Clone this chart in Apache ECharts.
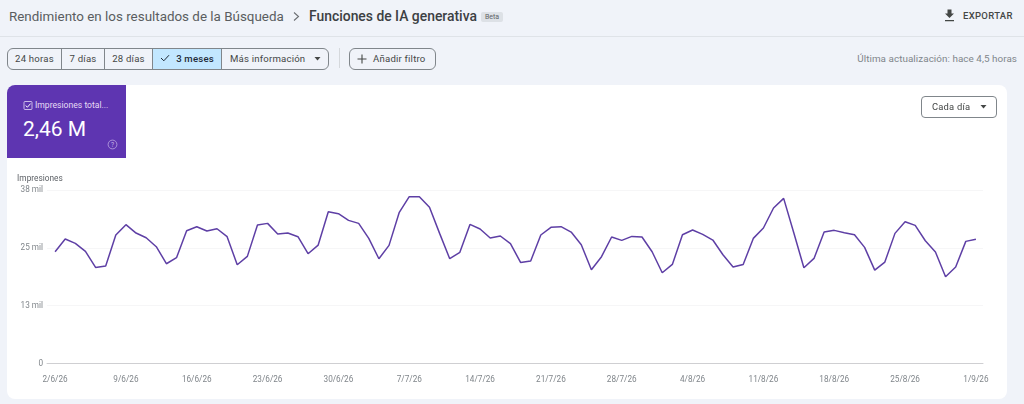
<!DOCTYPE html>
<html>
<head>
<meta charset="utf-8">
<script src="https://cdn.jsdelivr.net/npm/echarts@6/dist/echarts.min.js"></script>
<style>
html, body { margin: 0; padding: 0; width: 1024px; height: 404px; overflow: hidden; background: #f0f3f9; font-family: Roboto, sans-serif; color: #444746; }
.abs { position: absolute; white-space: nowrap; }
#head-line { left: 0; top: 36px; width: 1024px; height: 1px; background: #dfe3e8; }
#crumb1 { left: 9px; top: 7px; font-size: 13.4px; line-height: 19px; color: #5a5d60; }
#crumbsep { left: 291px; top: 11px; }
#crumb2 { left: 309px; top: 7px; font-size: 13.9px; line-height: 19px; font-weight: 500; color: #3c4043; }
#beta { left: 481px; top: 12px; width: 22px; height: 10px; line-height: 10px; background: #dde1e6; border-radius: 2px; font-size: 7px; text-align: center; color: #5f6368; }
#export { left: 963px; top: 9px; font-size: 9.5px; line-height: 13px; font-weight: 500; letter-spacing: .3px; color: #444746; }
#segs { left: 7px; top: 48px; width: 320px; height: 20px; border: 1px solid #80868b; border-radius: 6px; overflow: hidden; display: flex; background: #f0f3f9; }
.seg { flex: 0 0 auto; height: 20px; line-height: 20px; font-size: 9.6px; text-align: center; border-right: 1px solid #80868b; color: #444746; letter-spacing: .2px; }
.seg.on { background: #c2e7ff; color: #1f2a37; font-weight: 500; }
#sep { left: 339px; top: 48px; width: 1px; height: 20px; background: #d5d8dc; }
#filter { left: 349px; top: 48px; width: 85px; height: 20px; border: 1px solid #80868b; border-radius: 6px; }
#filter span { position: absolute; left: 23px; top: 0; line-height: 20px; font-size: 9.6px; letter-spacing: .2px; }
#updated { right: 7px; top: 52px; font-size: 9.9px; line-height: 13px; color: #80868b; letter-spacing: .05px; }
#card { left: 7px; top: 85px; width: 1000px; height: 314px; background: #fff; border-radius: 8px; }
#metric { left: 7px; top: 85px; width: 119px; height: 73px; background: #5e35b1; border-radius: 8px 0 0 0; color: #fff; }
#metric .name { position: absolute; left: 28px; top: 15px; font-size: 8.6px; line-height: 11px; color: #e6dcf5; }
#metric .val { position: absolute; left: 16px; top: 31px; font-size: 21px; line-height: 27px; }
#perday { left: 921px; top: 96px; width: 74px; height: 20px; border: 1px solid #80868b; border-radius: 4px; background: #fff; }
#perday span { position: absolute; left: 10px; top: 0; line-height: 20px; font-size: 9.4px; letter-spacing: .2px; }
#chart { left: 0; top: 0; width: 1024px; height: 404px; }
</style>
</head>
<body>
<div class="abs" id="head-line"></div>
<div class="abs" id="crumb1">Rendimiento en los resultados de la Búsqueda</div>
<svg class="abs" id="crumbsep" width="10" height="11" viewBox="0 0 10 11"><path d="M3 1.5 L7.5 5.5 L3 9.5" fill="none" stroke="#6b6e72" stroke-width="1.1"/></svg>
<div class="abs" id="crumb2">Funciones de IA generativa</div>
<div class="abs" id="beta">Beta</div>
<svg class="abs" style="left:944px;top:9px" width="11" height="13" viewBox="0 0 11 13"><path d="M3.5 0.5 H7.5 V4.5 H10 L5.5 9 L1 4.5 H3.5 Z M1 11 H10 V12.2 H1 Z" fill="#444746"/></svg>
<div class="abs" id="export">EXPORTAR</div>

<div class="abs" id="segs">
  <div class="seg" style="width:53px">24 horas</div>
  <div class="seg" style="width:42px">7 días</div>
  <div class="seg" style="width:47px">28 días</div>
  <div class="seg on" style="width:68px"><svg width="10" height="8" viewBox="0 0 10 8" style="margin-right:6px"><path d="M1 4 L3.8 6.8 L9 1.2" fill="none" stroke="#1f2a37" stroke-width="1"/></svg>3 meses</div>
  <div class="seg" style="width:98px;border-right:0;text-align:left;padding-left:8px">Más información<svg width="7" height="4" viewBox="0 0 7 4" style="margin-left:9px;vertical-align:1px"><path d="M0.5 0 H6.5 L3.5 3.5 Z" fill="#444746"/></svg></div>
</div>
<div class="abs" id="sep"></div>
<div class="abs" id="filter">
  <svg class="abs" style="left:7px;top:5px" width="10" height="10" viewBox="0 0 10 10"><path d="M5 0.5 V9.5 M0.5 5 H9.5" stroke="#444746" stroke-width="1.1"/></svg>
  <span>Añadir filtro</span>
</div>
<div class="abs" id="updated">Última actualización: hace 4,5 horas</div>

<div class="abs" id="card"></div>
<div class="abs" id="chart"></div>
<div class="abs" id="metric">
  <svg class="abs" style="left:16px;top:15px" width="10" height="11" viewBox="0 0 10 11"><rect x="1" y="1.5" width="8" height="8" rx="1" fill="none" stroke="#e6dcf5" stroke-width="0.8"/><path d="M2.6 5.5 L4.4 7.2 L7.6 3.6" fill="none" stroke="#fff" stroke-width="1"/></svg>
  <div class="name">Impresiones total...</div>
  <div class="val">2,46 M</div>
  <svg class="abs" style="left:100px;top:54px" width="11" height="11" viewBox="0 0 11 11"><circle cx="5.5" cy="5.5" r="4.4" fill="none" stroke="#c9b8e8" stroke-width="0.7"/><text x="5.5" y="8" font-size="6.5" text-anchor="middle" fill="#c9b8e8" font-family="Roboto">?</text></svg>
</div>
<div class="abs" id="perday">
  <span>Cada día</span>
  <svg class="abs" style="left:58px;top:8px" width="7" height="4" viewBox="0 0 7 4"><path d="M0.5 0 H6.5 L3.5 3.5 Z" fill="#444746"/></svg>
</div>

<script>
var dates = [
  "2/6/26", "3/6/26", "4/6/26", "5/6/26", "6/6/26", "7/6/26", "8/6/26", "9/6/26", "10/6/26", "11/6/26",
  "12/6/26", "13/6/26", "14/6/26", "15/6/26", "16/6/26", "17/6/26", "18/6/26", "19/6/26", "20/6/26", "21/6/26",
  "22/6/26", "23/6/26", "24/6/26", "25/6/26", "26/6/26", "27/6/26", "28/6/26", "29/6/26", "30/6/26", "1/7/26",
  "2/7/26", "3/7/26", "4/7/26", "5/7/26", "6/7/26", "7/7/26", "8/7/26", "9/7/26", "10/7/26", "11/7/26",
  "12/7/26", "13/7/26", "14/7/26", "15/7/26", "16/7/26", "17/7/26", "18/7/26", "19/7/26", "20/7/26", "21/7/26",
  "22/7/26", "23/7/26", "24/7/26", "25/7/26", "26/7/26", "27/7/26", "28/7/26", "29/7/26", "30/7/26", "31/7/26",
  "1/8/26", "2/8/26", "3/8/26", "4/8/26", "5/8/26", "6/8/26", "7/8/26", "8/8/26", "9/8/26", "10/8/26",
  "11/8/26", "12/8/26", "13/8/26", "14/8/26", "15/8/26", "16/8/26", "17/8/26", "18/8/26", "19/8/26", "20/8/26",
  "21/8/26", "22/8/26", "23/8/26", "24/8/26", "25/8/26", "26/8/26", "27/8/26", "28/8/26", "29/8/26", "30/8/26",
  "31/8/26", "1/9/26"
];
var impressions = [
  24480, 27260, 26310, 24550, 21050, 21340, 28140, 30400, 28570, 27550,
  25580, 21850, 23170, 29090, 29960, 29010, 29520, 27770, 21630, 23460,
  30330, 30690, 28360, 28570, 27770, 24040, 25940, 33250, 32810, 31350,
  30690, 27400, 22950, 25870, 33030, 36540, 36540, 34200, 28500, 22950,
  24340, 30470, 29450, 27480, 27920, 26240, 22140, 22440, 28140, 29820,
  29960, 28790, 26020, 20530, 23390, 27700, 26970, 27840, 27700, 24480,
  19880, 21700, 28210, 29230, 28280, 27040, 23820, 21120, 21700, 27400,
  29670, 34060, 36170, 28650, 20970, 23020, 28790, 29160, 28650, 28210,
  25430, 20460, 22220, 28500, 31060, 30250, 26890, 24410, 19000, 21120,
  26750, 27190
];
var xTicks = [0, 7, 14, 21, 28, 35, 42, 49, 56, 63, 70, 77, 84, 91];
var yTicks = [0, 38000 / 3, 76000 / 3, 38000];
var yTickLabels = ["0", "13 mil", "25 mil", "38 mil"];

var chart = echarts.init(document.getElementById("chart"), null, { renderer: "canvas" });

var option = {
  backgroundColor: "transparent",
  animation: false,
  textStyle: { fontFamily: "Roboto" },
  grid: { left: 47, right: 41, top: 190, bottom: 40.5 },
  xAxis: {
    type: "value",
    min: -0.8,
    max: 91.7,
    splitLine: { show: false },
    axisLine: { show: true, lineStyle: { color: "#cfcfd2", width: 1 } },
    axisTick: { show: false },
    axisLabel: {
      customValues: xTicks,
      formatter: function (v) {
        return dates[v];
      },
      color: "#80868b",
      fontSize: 8.2,
      margin: 12,
      hideOverlap: false,
    },
  },
  yAxis: {
    type: "value",
    min: 0,
    max: 38000,
    name: "Impresiones",
    nameLocation: "end",
    nameGap: 7,
    nameTextStyle: { color: "#5f6368", fontSize: 8.3, align: "left", padding: [0, 0, 0, -38] },
    axisLine: { show: false },
    axisTick: { show: false },
    splitLine: { show: true, lineStyle: { color: "#f6f6f7", width: 1 } },
    axisLabel: {
      customValues: yTicks,
      formatter: function (v, i) {
        return yTickLabels[yTicks.indexOf(v)];
      },
      color: "#80868b",
      fontSize: 8.2,
      margin: 4,
    },
    splitNumber: 3,
    interval: 38000 / 3,
  },
  series: [
    {
      name: "Impresiones",
      type: "line",
      data: impressions.map(function (v, i) {
        return [i, v];
      }),
      showSymbol: false,
      smooth: false,
      lineStyle: { color: "#5e3fa5", width: 1.5 },
    },
  ],
};

chart.setOption(option);
</script>
</body>
</html>
